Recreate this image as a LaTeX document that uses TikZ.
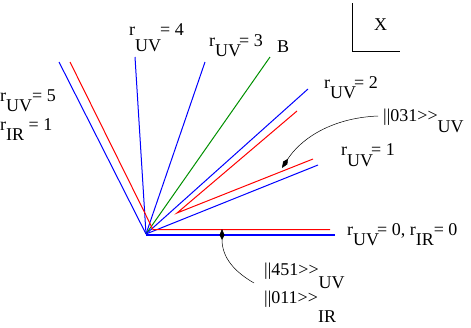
\documentclass[tikz,border=0pt]{standalone}
\usepackage{fontspec}
\setmainfont{Liberation Serif}
\usetikzlibrary{arrows.meta}
\begin{document}
\begin{tikzpicture}[x=1pt,y=-1pt,
  bl/.style={draw=blue, line width=1pt},
  rd/.style={draw=red, line width=1pt},
  gr/.style={draw={rgb,255:red,0;green,144;blue,0}, line width=1pt},
  ax/.style={draw=black, line width=0.8pt},
  lab/.style={inner sep=0pt, anchor=base west, font=\fontsize{18}{20}\selectfont},
  pointer/.style={draw=black, line width=0.5pt, -{Kite[length=11pt,width=5pt,inset=5pt]}}]
\useasboundingbox (0,0) rectangle (471,327);
% fan origin and ray ends
\coordinate (O) at (146,234);
\coordinate (b5) at (59,62);
\coordinate (b4) at (135,57);
\coordinate (b3) at (205,62);
\coordinate (g) at (270,57);
\coordinate (b2) at (308,89);
\coordinate (b1) at (318,165);
\coordinate (b0) at (335,234.5);
\coordinate (O0) at (146,234.5);
\coordinate (r5) at (70,62);
\coordinate (rk) at (153,229.5);
\coordinate (r0) at (330,229.5);
\coordinate (rv) at (177,213);
\coordinate (r2) at (297,111);
\coordinate (r1) at (313,159);
% rays
\draw[bl] (O) -- (b5);
\draw[bl] (O) -- (b4);
\draw[bl] (O) -- (b3);
\draw[gr] (O) -- (g);
\draw[bl] (O) -- (b2);
\draw[bl] (O) -- (b1);
\draw[bl, line width=2pt] (O0) -- (b0);
\draw[rd, line join=miter] (r5) -- (rk) -- (r0);
\draw[rd, line join=miter] (r2) -- (rv) -- (r1);
% axes box
\coordinate (a1) at (352,3);
\coordinate (a2) at (352,51);
\coordinate (a3) at (400,51);
\draw[ax] (a1) -- (a2) -- (a3);
% labels
\node[lab] (l5) at (0,101) {r\raisebox{-10pt}{UV}= 5};
\node[lab] (lir) at (0,130) {r\raisebox{-10pt}{IR} = 1};
\node[lab] (l4) at (129,35) {r\raisebox{-16pt}{UV}\kern-1pt = 4};
\node[lab] (l3) at (209,46) {r\raisebox{-10pt}{UV}\kern-2pt= 3};
\node[lab] (lB) at (277,52) {B};
\node[lab] (lX) at (374,30) {X};
\node[lab] (l2) at (324,88) {r\raisebox{-10pt}{UV}\kern-2pt= 2};
\node[lab] (l031) at (383,121) {||031>{}>\raisebox{-11pt}{UV}};
\node[lab] (l1) at (341,155) {r\raisebox{-11pt}{UV}\kern-2pt= 1};
\node[lab] (l0) at (347,235) {r\raisebox{-10pt}{UV}\kern-2pt= 0, r\raisebox{-10pt}{IR}= 0};
\node[lab] (l451) at (264,275) {||451>{}>\raisebox{-13pt}{UV}};
\node[lab] (l011) at (264,303) {||011>{}>\raisebox{-19pt}{IR}};
% pointers
\coordinate (p1s) at (378,116);
\coordinate (p1e) at (282,168);
\draw[pointer] (p1s) .. controls (330,118) and (300,140) .. (p1e);
\coordinate (p2s) at (254,283);
\coordinate (p2e) at (222,229);
\draw[pointer] (p2s) .. controls (235,272) and (222,258) .. (p2e);
\end{tikzpicture}
\end{document}
